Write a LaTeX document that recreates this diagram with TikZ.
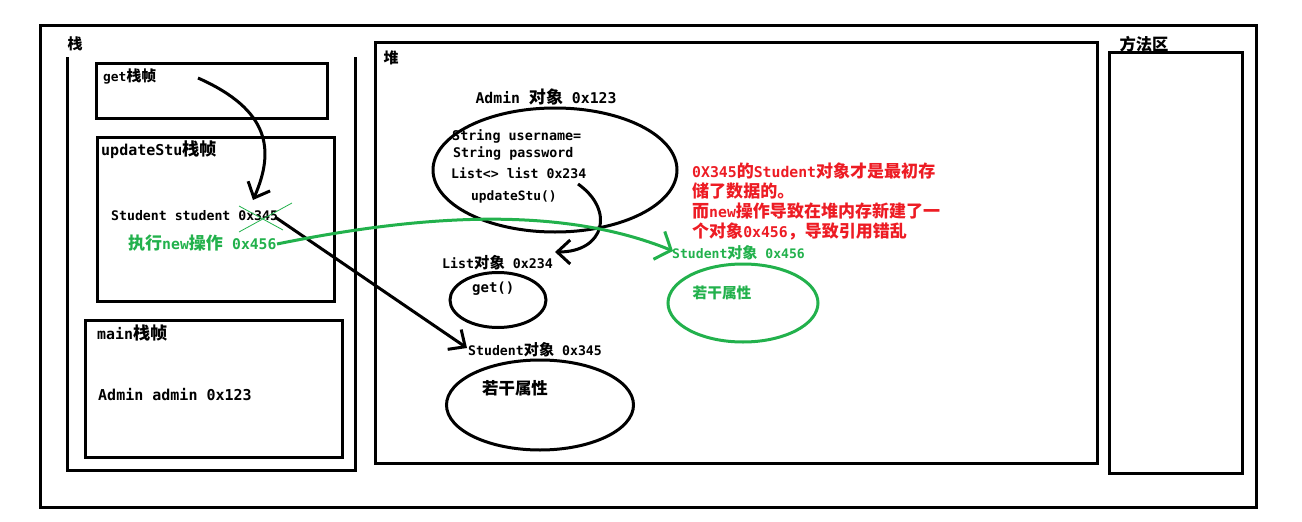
\documentclass[tikz,border=0pt]{standalone}
\usepackage{fontspec}
\setmainfont{DejaVu Sans Mono}
\newfontfamily\cjk{Noto Sans CJK SC}[Scale=1.15]
\newcommand\zh[1]{{\cjk #1}}
\newcommand\fsz[1]{\fontsize{#1}{#1}\selectfont\bfseries}
\usetikzlibrary{arrows.meta,shapes.geometric}
\definecolor{pgreen}{RGB}{34,177,76}
\definecolor{pred}{RGB}{237,28,36}
\tikzset{
  frame/.style={draw=black, line width=3pt},
  ell/.style={ellipse, draw, line width=3pt, inner sep=0pt},
  lbl/.style={inner sep=0pt, anchor=west},
  barb/.style={line width=3pt, -{Straight Barb[length=13pt,width=24pt]}},
  gbarb/.style={draw=pgreen, line width=3pt, -{Straight Barb[length=13pt,width=30pt]}},
}
\begin{document}
\begin{tikzpicture}[x=1pt,y=-1pt]
\useasboundingbox (0,0) rectangle (1302,522);
% frames
\draw[frame] (40,25) rectangle (1256,507);
\draw[frame] (67,57) -- (67,470) -- (355,470) -- (355,57);
\draw[frame] (96,63) rectangle (327,118);
\draw[frame] (97,137) rectangle (334,301);
\draw[frame] (85,320) rectangle (342,457);
\draw[frame] (375,42) rectangle (1097,463);
\draw[frame] (1109,52) rectangle (1242,473);
% ellipses
\node[ell, minimum width=244pt, minimum height=124pt] (adminobj) at (555,170) {};
\node[ell, minimum width=96pt, minimum height=55pt] (listobj) at (498,300) {};
\node[ell, minimum width=187pt, minimum height=90pt] (stuobj) at (540,405) {};
\node[ell, draw=pgreen, minimum width=150pt, minimum height=78pt] (newobj) at (743,303) {};
% labels
\node[lbl, anchor=center, font=\fsz{13}] (stack) at (75,44) {\zh{栈}};
\node[lbl, font=\fsz{12.9}] (getf) at (103,76) {get\zh{栈帧}};
\node[lbl, font=\fsz{15}] (updf) at (101,150) {updateStu\zh{栈帧}};
\node[lbl, font=\fsz{13.2}] (stuvar) at (111,216) {Student student 0x345};
\node[lbl, font=\fsz{14.8}, text=pgreen] (exec) at (128,243) {\zh{执行}new\zh{操作}};
\node[lbl, font=\fsz{14.7}, text=pgreen] (new456) at (232,244) {0x456};
\node[lbl, font=\fsz{14.9}] (mainf) at (97,333) {main\zh{栈帧}};
\node[lbl, font=\fsz{15}] (adminvar) at (98,395) {Admin admin 0x123};
\node[lbl, anchor=center, font=\fsz{13}] (heap) at (391,58) {\zh{堆}};
\node[lbl, anchor=center, font=\fsz{14.8}] (admint) at (546,97) {Admin \zh{对象} 0x123};
\node[lbl, font=\fsz{13.4}] (un) at (452,136) {String username=};
\node[lbl, font=\fsz{13.3}] (pw) at (453,153) {String password};
\node[lbl, font=\fsz{13.2}] (lst) at (451,173) {List<> list 0x234};
\node[lbl, font=\fsz{12.9}] (upd) at (471,197) {updateStu()};
\node[lbl, font=\fsz{13.3}] (listt) at (442,263) {List\zh{对象} 0x234};
\node[lbl, font=\fsz{14}] (getm) at (472,289) {get()};
\node[lbl, font=\fsz{13.2}] (stut) at (468,350) {Student\zh{对象} 0x345};
\node[lbl, anchor=center, font=\fsz{14.3}] (attrs) at (515,388) {\zh{若干属性}};
\node[lbl, font=\fsz{13.1}, text=pgreen] (newt) at (672,253) {Student\zh{对象} 0x456};
\node[lbl, anchor=center, font=\fsz{12.8}, text=pgreen] (gattrs) at (722,293) {\zh{若干属性}};
\node[inner sep=0pt, anchor=north west, align=left, text=pred, font=\fontsize{14.8}{20}\selectfont\bfseries] (note) at (692,163)
  {0X345\zh{的}Student\zh{对象才是最初存}\\\zh{储了数据的。}\\\zh{而}new\zh{操作导致在堆内存新建了一}\\\zh{个对象}0x456\zh{，导致引用错乱}};
\node[lbl, anchor=center, font=\fsz{14.2}] (method) at (1144,44) {\zh{方法区}};
% arrow coordinates
\coordinate (a1s) at (198,78);
\coordinate (a1e) at (253,200);
\coordinate (a2s) at (275,217);
\coordinate (a2e) at (467,348);
\coordinate (a3s) at (578,184);
\coordinate (a3e) at (555,252);
\coordinate (g0) at (277,244);
\coordinate (g1) at (673,251);
% arrows
\draw[barb] (a1s) .. controls (270,110) and (275,150) .. (a1e);
\draw[barb] (a2s) -- (a2e);
\draw[barb] (a3s) .. controls (615,210) and (605,252) .. (a3e);
\draw[gbarb] (g0) .. controls (420,215) and (560,205) .. (g1);
% green cross
\draw[pgreen, line width=0.8pt] (239,232) -- (292,203) (239,206) -- (283,230);
\end{tikzpicture}
\end{document}
